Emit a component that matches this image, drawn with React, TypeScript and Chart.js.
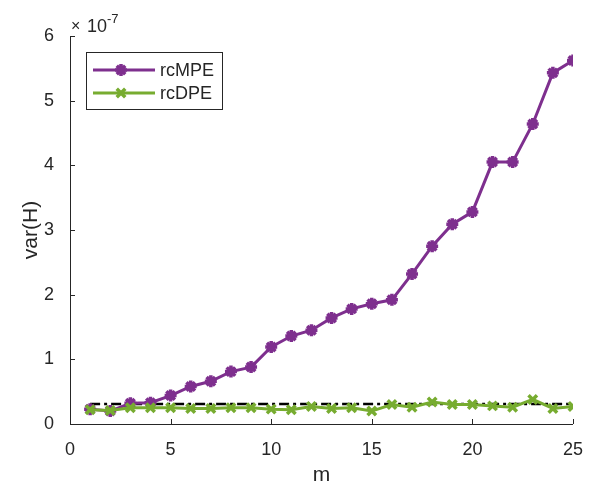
import React, { useEffect, useRef } from "react";
import { Chart, registerables } from "chart.js";

Chart.register(...registerables);

const mValues = [1, 2, 3, 4, 5, 6, 7, 8, 9, 10, 11, 12, 13, 14, 15, 16, 17, 18, 19, 20, 21, 22, 23, 24, 25];
// values in units of 1e-7
const rcMPE = [0.23, 0.2, 0.32, 0.33, 0.44, 0.58, 0.66, 0.81, 0.88, 1.19, 1.36, 1.45, 1.64, 1.78, 1.86, 1.92, 2.32, 2.75, 3.09, 3.28, 4.05, 4.05, 4.64, 5.43, 5.62];
const rcDPE = [0.22, 0.21, 0.25, 0.25, 0.25, 0.24, 0.24, 0.25, 0.25, 0.23, 0.22, 0.27, 0.24, 0.25, 0.2, 0.3, 0.26, 0.34, 0.3, 0.3, 0.28, 0.26, 0.38, 0.24, 0.27];
const refX = [1, 25];
const refY = [0.31, 0.31];
const xTicks = [0, 5, 10, 15, 20, 25];
const yTicks = [0, 1, 2, 3, 4, 5, 6];
const seriesNames = ["rcMPE", "rcDPE"];
const exponentLabel = "-7";

const PURPLE = "#7E2F8E";
const GREEN = "#77AC30";
const AXIS = "#262626";
const FONT = "'Liberation Sans', Arial, Helvetica, sans-serif";

function drawMarker(ctx: CanvasRenderingContext2D, style: string, x: number, y: number, color: string) {
  ctx.save();
  ctx.strokeStyle = color;
  ctx.lineWidth = 3.5;
  ctx.beginPath();
  const r = 6;
  if (style === "star") {
    ctx.moveTo(x, y - r);
    ctx.lineTo(x, y + r);
    ctx.moveTo(x - r, y);
    ctx.lineTo(x + r, y);
    const d = r * 0.707;
    ctx.moveTo(x - d, y - d);
    ctx.lineTo(x + d, y + d);
    ctx.moveTo(x + d, y - d);
    ctx.lineTo(x - d, y + d);
  } else {
    const d = r * 0.707;
    ctx.moveTo(x - d, y - d);
    ctx.lineTo(x + d, y + d);
    ctx.moveTo(x + d, y - d);
    ctx.lineTo(x - d, y + d);
  }
  ctx.stroke();
  ctx.restore();
}

const axesPlugin = {
  id: "matlabAxes",
  afterDatasetsDraw(chart: any) {
    const { ctx, chartArea, scales } = chart;
    const xs = scales.x;
    const ys = scales.y;
    ctx.save();
    ctx.strokeStyle = AXIS;
    ctx.lineWidth = 1;
    ctx.beginPath();
    ctx.moveTo(chartArea.left + 0.5, chartArea.top);
    ctx.lineTo(chartArea.left + 0.5, chartArea.bottom + 0.5);
    ctx.lineTo(chartArea.right, chartArea.bottom + 0.5);
    ctx.stroke();
    ctx.beginPath();
    for (const t of xTicks) {
      const px = Math.round(xs.getPixelForValue(t)) + 0.5;
      ctx.moveTo(px, chartArea.bottom);
      ctx.lineTo(px, chartArea.bottom - 5);
    }
    for (const t of yTicks) {
      const py = Math.round(ys.getPixelForValue(t)) + 0.5;
      ctx.moveTo(chartArea.left, py);
      ctx.lineTo(chartArea.left + 5, py);
    }
    ctx.stroke();

    // exponent label
    ctx.fillStyle = AXIS;
    ctx.textBaseline = "alphabetic";
    ctx.textAlign = "left";
    ctx.font = `16px ${FONT}`;
    ctx.fillText("\u00D7", chartArea.left + 1, 31);
    ctx.font = `18px ${FONT}`;
    ctx.fillText("10", chartArea.left + 17, 32);
    ctx.font = `13px ${FONT}`;
    ctx.fillText(exponentLabel, chartArea.left + 37, 23);

    // legend
    const bx = 86.5, by = 52.5, bw = 136, bh = 57;
    ctx.fillStyle = "#fff";
    ctx.fillRect(bx, by, bw, bh);
    ctx.strokeStyle = AXIS;
    ctx.lineWidth = 1;
    ctx.strokeRect(bx, by, bw, bh);
    const rows = [
      { name: seriesNames[0], color: PURPLE, style: "star", y: 70 },
      { name: seriesNames[1], color: GREEN, style: "crossRot", y: 93 },
    ];
    for (const r of rows) {
      ctx.strokeStyle = r.color;
      ctx.lineWidth = 3;
      ctx.beginPath();
      ctx.moveTo(93, r.y);
      ctx.lineTo(155, r.y);
      ctx.stroke();
      drawMarker(ctx, r.style, 121, r.y, r.color);
      ctx.fillStyle = AXIS;
      ctx.font = `18px ${FONT}`;
      ctx.textBaseline = "middle";
      ctx.fillText(r.name, 160, r.y + 1);
    }
    ctx.restore();
  },
};

export default function App() {
  const ref = useRef<HTMLCanvasElement | null>(null);
  useEffect(() => {
    document.body.style.margin = "0";
    const canvas = ref.current!;
    const chart = new Chart(canvas, {
      type: "line",
      data: {
        datasets: [
          {
            label: "ref",
            data: refX.map((x, i) => ({ x, y: refY[i] })),
            borderColor: "#000",
            borderWidth: 2.5,
            borderDash: [10, 4, 3, 4],
            pointRadius: 0,
            fill: false,
            order: 3,
          },
          {
            label: seriesNames[0],
            data: mValues.map((x, i) => ({ x, y: rcMPE[i] })),
            borderColor: PURPLE,
            backgroundColor: PURPLE,
            borderWidth: 3,
            pointStyle: "star",
            pointRadius: 6,
            pointBorderWidth: 3.5,
            fill: false,
            order: 2,
          },
          {
            label: seriesNames[1],
            data: mValues.map((x, i) => ({ x, y: rcDPE[i] })),
            borderColor: GREEN,
            backgroundColor: GREEN,
            borderWidth: 3,
            pointStyle: "crossRot",
            pointRadius: 6,
            pointBorderWidth: 3.5,
            fill: false,
            order: 1,
          },
        ],
      },
      options: {
        animation: false,
        responsive: false,
        devicePixelRatio: 1,
        layout: { padding: { top: 36, right: 17, left: 0, bottom: 0 } },
        plugins: { legend: { display: false }, tooltip: { enabled: false } },
        scales: {
          x: {
            type: "linear",
            min: 0,
            max: 25,
            grid: { display: false },
            border: { display: false },
            afterBuildTicks: (s: any) => {
              s.ticks = xTicks.map((v) => ({ value: v }));
            },
            afterFit: (s: any) => {
              s.height = 64;
            },
            ticks: {
              color: AXIS,
              font: { family: FONT, size: 18 },
              padding: 7,
              maxRotation: 0,
              callback: (v: any) => String(v),
            },
            title: {
              display: true,
              text: "m",
              color: AXIS,
              font: { family: FONT, size: 21 },
              padding: { top: 0, bottom: 0 },
            },
          },
          y: {
            type: "linear",
            min: 0,
            max: 6,
            grid: { display: false },
            border: { display: false },
            afterBuildTicks: (s: any) => {
              s.ticks = yTicks.map((v) => ({ value: v }));
            },
            afterFit: (s: any) => {
              s.width = 70;
            },
            ticks: {
              color: AXIS,
              font: { family: FONT, size: 18 },
              padding: 8,
              callback: (v: any) => String(v),
            },
            title: {
              display: true,
              text: "var(H)",
              color: AXIS,
              font: { family: FONT, size: 21 },
              padding: { top: 19, bottom: 0 },
            },
          },
        },
      } as any,
      plugins: [axesPlugin],
    });
    return () => chart.destroy();
  }, []);
  return (
    <div style={{ width: 590, height: 488 }}>
      <canvas ref={ref} width={590} height={488} style={{ display: "block", width: 590, height: 488 }} />
    </div>
  );
}
